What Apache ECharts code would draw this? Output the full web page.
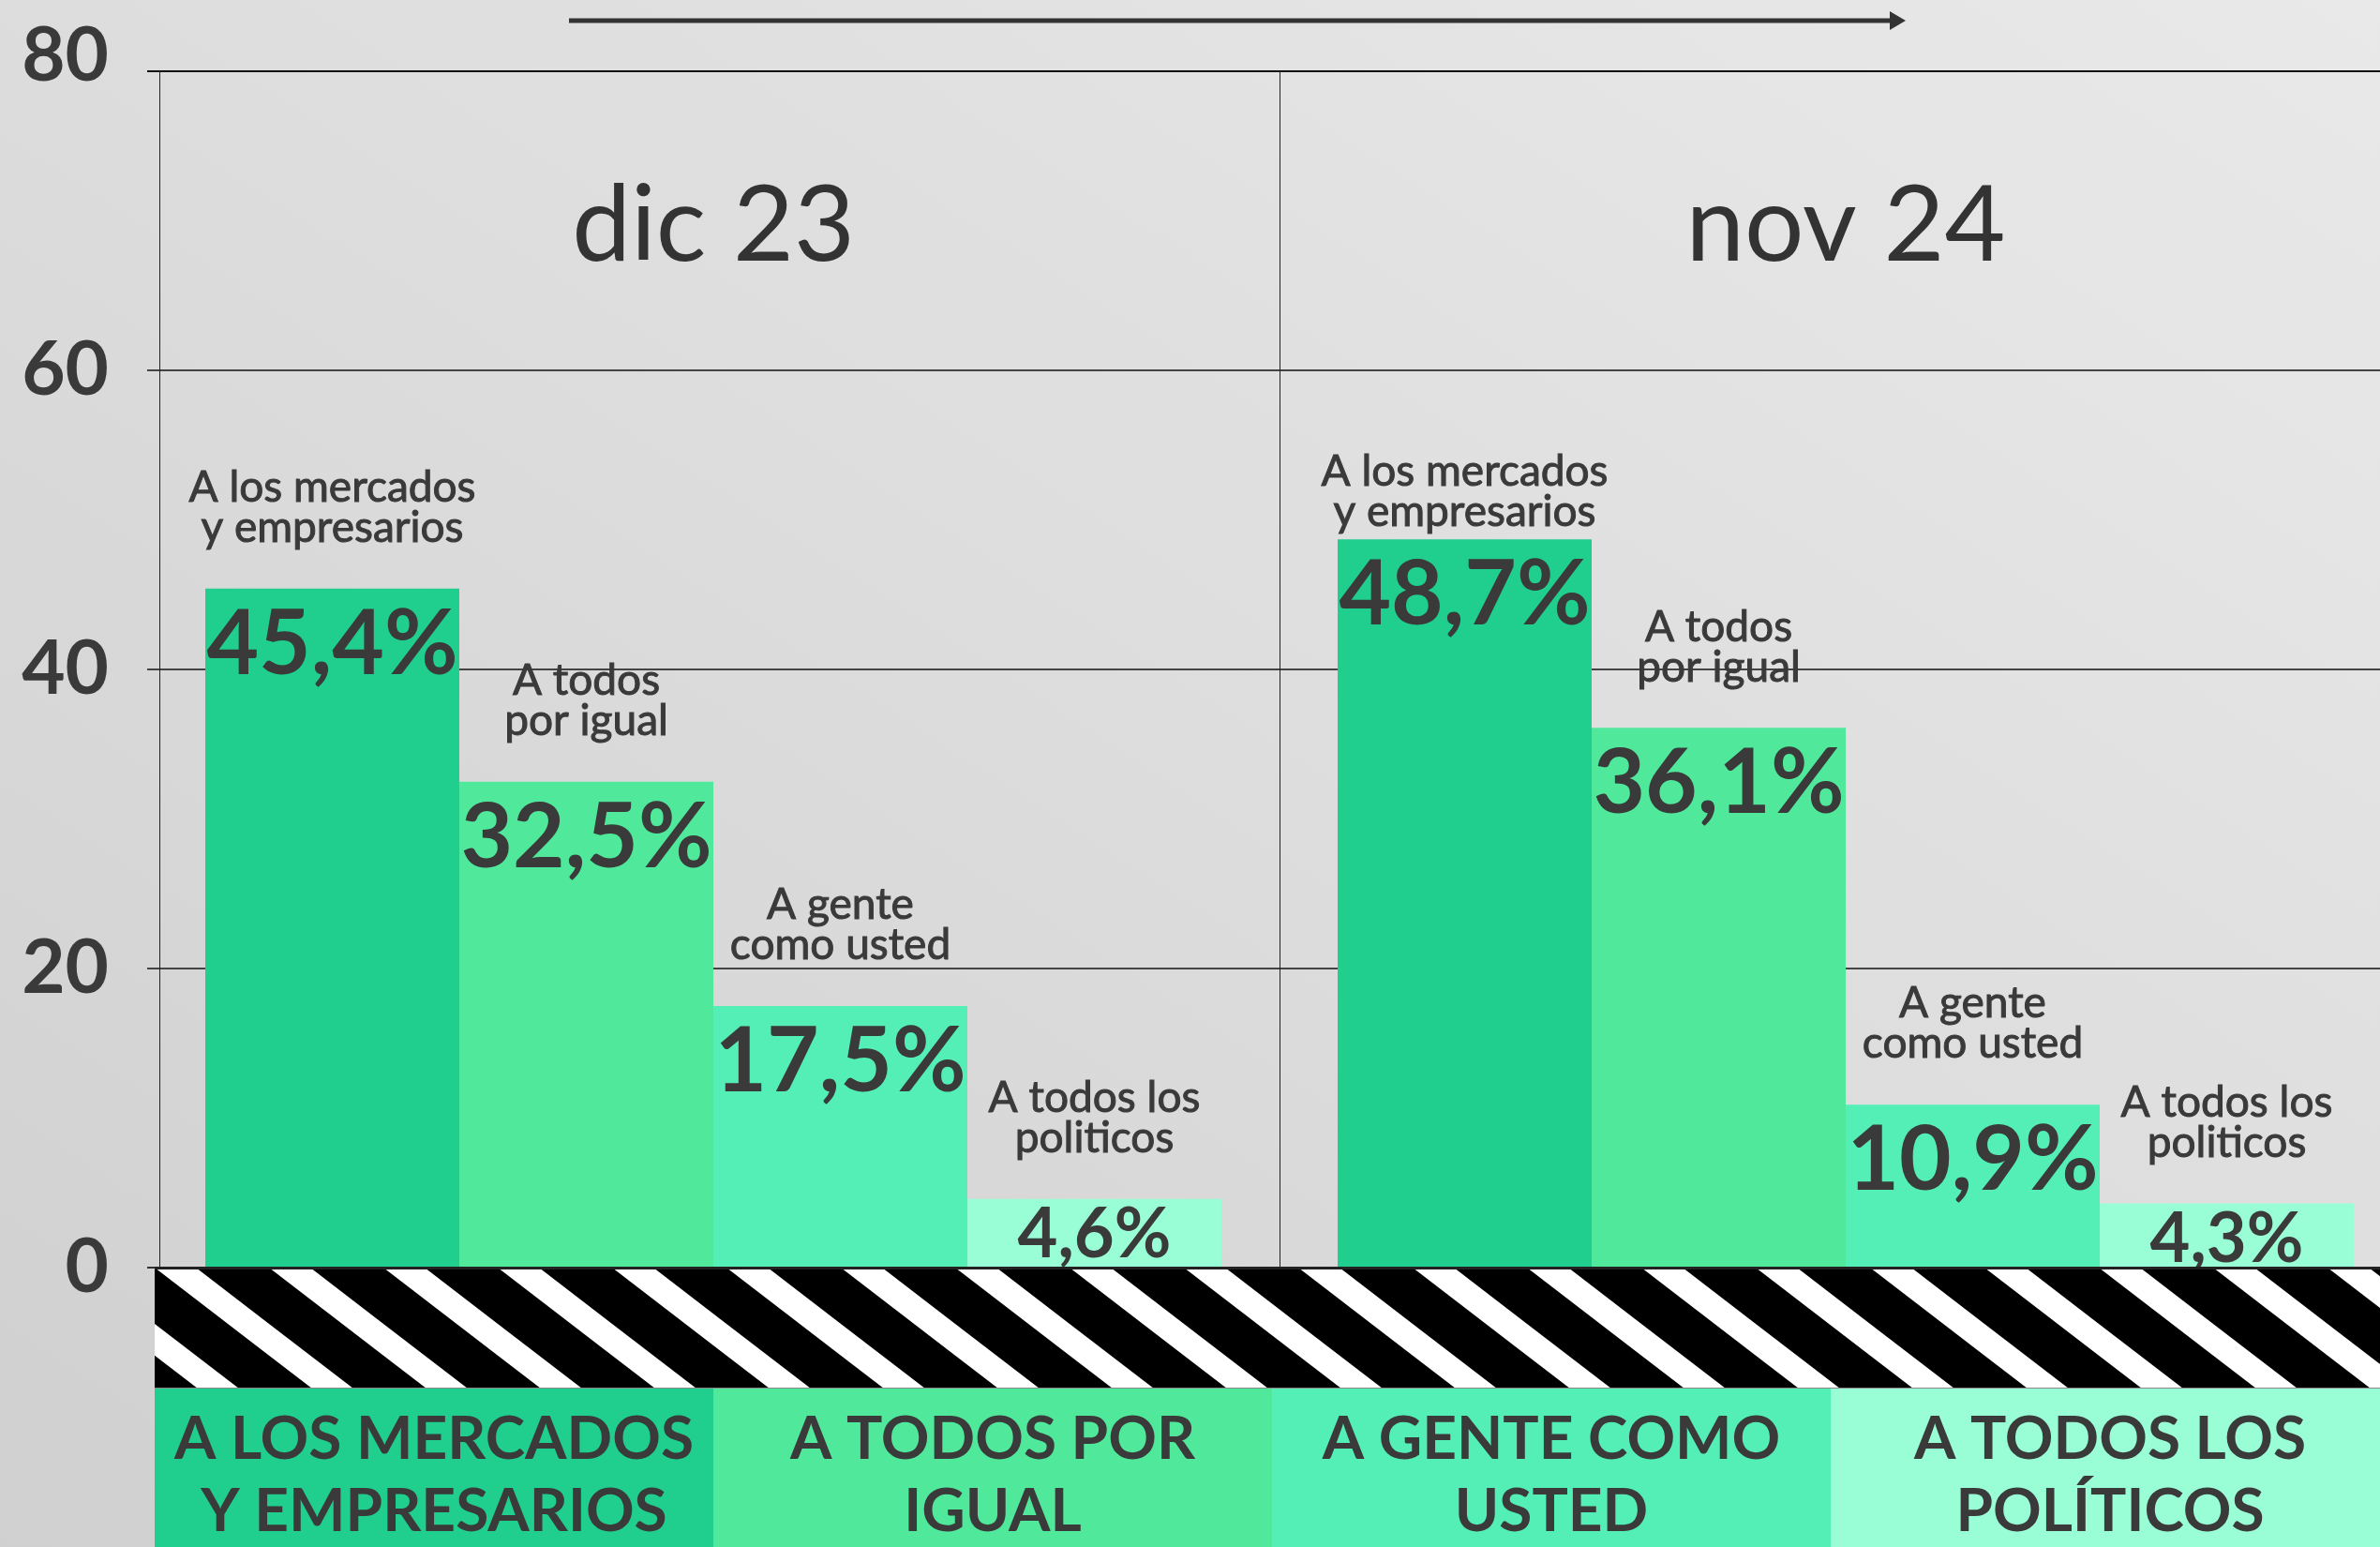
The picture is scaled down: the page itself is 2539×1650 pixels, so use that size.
<!DOCTYPE html>
<html>
<head>
<meta charset="utf-8">
<script src="https://cdn.jsdelivr.net/npm/echarts@6/dist/echarts.min.js"></script>
<style>
  html, body { margin: 0; padding: 0; }
  body { background: linear-gradient(to top right, #d0d0d0, #e9e9e9); }
  #chart { width: 2539px; height: 1650px; }
</style>
</head>
<body>
<div id="chart"></div>
<script>
// data
const periods = ['dic 23', 'nov 24']
const answers = ['A los mercados\ny empresarios', 'A todos\npor igual', 'A gente\ncomo usted', 'A todos los\npoliticos']
const legendNames = ['A LOS MERCADOS\nY EMPRESARIOS', 'A TODOS POR\nIGUAL', 'A GENTE COMO\nUSTED', 'A TODOS LOS\nPOLÍTICOS']
const mercados = [45.4, 48.7]
const todosIgual = [32.5, 36.1]
const genteUsted = [17.5, 10.9]
const politicos = [4.6, 4.3]
const yMin = 0
const yMax = 80
const yStep = 20

const seriesValues = [mercados, todosIgual, genteUsted, politicos]
const colors = ['#20ce8e', '#50e99c', '#54efb6', '#99fdd5']

// layout
const W = 2539
const H = 1650
const gridLeft = 157
const gridTop = 76
const gridWidth = 2416
const gridHeight = 1276
const axisShift = 13 // y axis line sits a little inside the grid
const bandTop = gridTop + gridHeight
const bandHeight = 129
const textColor = '#3a3a3a'
const font = 'Lato, "Open Sans", sans-serif'

const fmt = v => v.toFixed(1).replace('.', ',') + '%'

// diagonal stripes tile for the band under the bars
const tile = document.createElement('canvas')
tile.width = 122
tile.height = bandHeight
const tctx = tile.getContext('2d')
tctx.fillStyle = '#000'
tctx.fillRect(0, 0, tile.width, tile.height)
tctx.fillStyle = '#fff'
for (let k = -3; k <= 3; k++) {
  const x = k * 122
  tctx.beginPath()
  tctx.moveTo(x, 0)
  tctx.lineTo(x + 44, 0)
  tctx.lineTo(x + 44 + 168, bandHeight)
  tctx.lineTo(x + 168, bandHeight)
  tctx.closePath()
  tctx.fill()
}

const chart = echarts.init(document.getElementById('chart'), null, { renderer: 'canvas' })

const series = seriesValues.map((vals, si) => {
  return {
    type: 'bar',
    name: answers[si],
    barWidth: 271,
    barGap: '0%',
    itemStyle: { color: colors[si] },
    data: vals.map(v => {
      // tall bars get their caption tucked closer to the top
      const item = { value: v }
      if (v > 47) item.label = { offset: [0, -94] }
      return item
    }),
    label: {
      show: true,
      position: 'insideTop',
      distance: 0,
      offset: [0, -129],
      color: textColor,
      fontFamily: font,
      formatter: p => {
        const names = answers[si].split('\n').map(t => '{n|' + t + '}').join('\n')
        let sp = 's'
        let vs = 'v'
        if (p.value < 8) { sp = 's2'; vs = 'vs' }
        if (p.value > 47) sp = 's3'
        return names + '\n{' + sp + '| }\n{' + vs + '|' + fmt(p.value) + '}'
      },
      rich: {
        n: {
          fontSize: 46,
          lineHeight: 43,
          color: '#3a3a3a',
          textBorderColor: '#3a3a3a',
          textBorderWidth: 1,
          fontFamily: font
        },
        s: { fontSize: 10, lineHeight: 55 },
        s2: { fontSize: 10, lineHeight: 45 },
        s3: { fontSize: 10, lineHeight: 20 },
        v: { fontSize: 96, lineHeight: 96, fontWeight: 'bold', color: textColor, fontFamily: font },
        vs: { fontSize: 74, lineHeight: 74, fontWeight: 'bold', color: textColor, fontFamily: font }
      }
    }
  }
})

// legend boxes under the striped band
const boxW = 596
const legendLeft = 165
const legendTop = bandTop + bandHeight
const legendGraphics = []
legendNames.forEach((name, i) => {
  legendGraphics.push({
    type: 'rect',
    z: 100,
    shape: { x: legendLeft + i * boxW, y: legendTop, width: boxW, height: H - legendTop },
    style: { fill: colors[i] }
  })
  legendGraphics.push({
    type: 'text',
    z: 101,
    x: legendLeft + i * boxW + boxW / 2,
    y: legendTop + 93,
    style: {
      text: name,
      fill: textColor,
      font: 'bold 64px ' + font,
      lineHeight: 77,
      align: 'center',
      verticalAlign: 'middle'
    }
  })
})

const option = {
  backgroundColor: 'transparent',
  animation: false,
  grid: {
    left: gridLeft,
    top: gridTop,
    width: gridWidth,
    height: gridHeight,
    containLabel: false,
    outerBoundsMode: 'none'
  },
  xAxis: [
    {
      type: 'category',
      data: periods,
      axisLine: { show: false },
      axisTick: { show: false },
      axisLabel: { show: false },
      // only the divider between the two periods
      splitLine: { show: true, lineStyle: { color: ['rgba(0,0,0,0)', '#222', 'rgba(0,0,0,0)'], width: 1 } }
    },
    {
      type: 'category',
      data: periods,
      position: 'top',
      offset: -166,
      axisLine: { show: false },
      axisTick: { show: false },
      axisLabel: {
        margin: 0,
        verticalAlign: 'middle',
        fontSize: 112,
        color: '#333',
        fontFamily: font
      }
    }
  ],
  yAxis: {
    type: 'value',
    min: yMin,
    max: yMax,
    interval: yStep,
    offset: -axisShift,
    axisLine: { show: true, lineStyle: { color: '#222', width: 1 } },
    axisTick: { show: false },
    axisLabel: {
      margin: 54,
      fontSize: 80,
      fontWeight: 'bold',
      color: textColor,
      fontFamily: font,
      formatter: v => (v === yMax ? '{top|' + v + '}' : '{d|' + v + '}'),
      rich: {
        d: { fontSize: 80, fontWeight: 'bold', color: textColor, fontFamily: font },
        top: { fontSize: 80, fontWeight: 'bold', color: textColor, fontFamily: font, padding: [0, 0, 32, 0] }
      }
    },
    splitLine: { lineStyle: { color: ['#333', '#444', '#444', '#444', '#111'], width: 2 } }
  },
  series: series,
  graphic: [
    {
      type: 'line',
      shape: { x1: 607, y1: 22, x2: 2020, y2: 22 },
      style: { stroke: '#333', lineWidth: 5 }
    },
    {
      type: 'polygon',
      shape: { points: [[2033, 22], [2016, 12], [2016, 32]] },
      style: { fill: '#333' }
    },
    {
      type: 'rect',
      z: 100,
      x: legendLeft,
      y: bandTop,
      shape: { x: 0, y: 0, width: W - legendLeft, height: bandHeight },
      style: { fill: { image: tile, repeat: 'repeat' } }
    },
    {
      type: 'line',
      z: 100,
      shape: { x1: legendLeft, y1: bandTop + 0.5, x2: W, y2: bandTop + 0.5 },
      style: { stroke: '#222', lineWidth: 3 }
    },
    {
      type: 'line',
      z: 100,
      shape: { x1: legendLeft, y1: legendTop, x2: W, y2: legendTop },
      style: { stroke: '#888', lineWidth: 2 }
    }
  ].concat(legendGraphics)
}

chart.setOption(option)
</script>
</body>
</html>
